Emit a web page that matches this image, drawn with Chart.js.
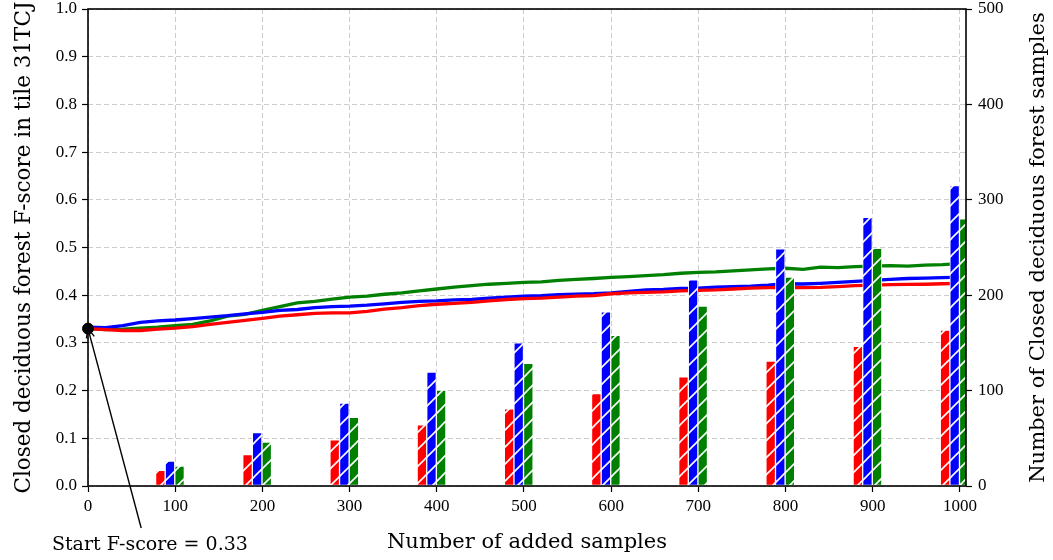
<!DOCTYPE html>
<html>
<head>
<meta charset="utf-8">
<script src="https://cdn.jsdelivr.net/npm/chart.js@4/dist/chart.umd.min.js"></script>
<style>
  html, body { margin: 0; padding: 0; background: #fff; }
  canvas { display: block; }
</style>
</head>
<body>
<canvas id="c" width="1053" height="560"></canvas>
<script>
// ---------------- data ----------------
const sampleSteps = [0,20,40,60,80,100,120,140,160,180,200,220,240,260,280,300,320,340,360,380,400,420,440,460,480,500,520,540,560,580,600,620,640,660,680,700,720,740,760,780,800,820,840,860,880,900,920,940,960,980,1000];
const fScoreRed = [0.330,0.328,0.326,0.326,0.329,0.331,0.334,0.339,0.343,0.347,0.3515,0.356,0.359,0.362,0.363,0.363,0.366,0.371,0.374,0.378,0.381,0.383,0.385,0.388,0.391,0.393,0.394,0.396,0.398,0.399,0.403,0.405,0.406,0.407,0.409,0.410,0.411,0.413,0.415,0.416,0.4165,0.416,0.4165,0.418,0.420,0.421,0.422,0.4225,0.423,0.424,0.425];
const fScoreBlue = [0.333,0.332,0.336,0.343,0.346,0.348,0.351,0.354,0.357,0.361,0.364,0.368,0.370,0.374,0.376,0.377,0.379,0.382,0.385,0.387,0.388,0.390,0.391,0.394,0.396,0.398,0.399,0.401,0.402,0.403,0.405,0.408,0.411,0.412,0.414,0.415,0.417,0.418,0.419,0.421,0.424,0.4235,0.425,0.427,0.429,0.431,0.433,0.435,0.436,0.437,0.438];
const fScoreGreen = [0.330,0.328,0.329,0.331,0.333,0.336,0.339,0.346,0.356,0.360,0.368,0.376,0.384,0.387,0.392,0.396,0.398,0.402,0.405,0.409,0.413,0.417,0.420,0.423,0.425,0.427,0.428,0.431,0.433,0.435,0.4375,0.439,0.441,0.443,0.446,0.448,0.449,0.451,0.453,0.455,0.4565,0.454,0.459,0.458,0.460,0.461,0.462,0.461,0.463,0.464,0.466];

const barCategories = [100,200,300,400,500,600,700,800,900,1000];
const countRed   = [16.5,33,48.5,64,81,97,114.5,131,146.5,163.5];
const countBlue  = [26,56,87,119.5,150,182.5,216,248.5,281.5,315];
const countGreen = [21,46,72,100.5,128.5,158,188.5,219,249,280];

const xTickLabels  = [0,100,200,300,400,500,600,700,800,900,1000];
const yTickLabels  = [0.0,0.1,0.2,0.3,0.4,0.5,0.6,0.7,0.8,0.9,1.0];
const y2TickLabels = [0,100,200,300,400,500];

const startScore = 0.33;
const startSamples = 0;

const xTitle  = 'Number of added samples';
const yTitle  = 'Closed deciduous forest F-score in tile 31TCJ';
const y2Title = 'Number of Closed deciduous forest samples';
const annotText = 'Start F-score = 0.33';

// ---------------- styling helpers ----------------
const RED = '#ff0000', BLUE = '#0000ff', GREEN = '#008000';
const TICK_FONT = { family: 'Liberation Serif', size: 17 };
const TITLE_FONT = '21px "DejaVu Serif"';

function hatch(color) {
  const s = 17;
  const c = document.createElement('canvas');
  c.width = s; c.height = s;
  const g = c.getContext('2d');
  g.fillStyle = color;
  g.fillRect(0, 0, s, s);
  g.strokeStyle = '#ffffff';
  g.lineWidth = 1.6;
  for (const k of [0, s, 2 * s]) {
    g.beginPath();
    g.moveTo(k - 2 * s, 2 * s);
    g.lineTo(k + 2 * s, -2 * s);
    g.stroke();
  }
  return g.createPattern(c, 'repeat');
}

const barShift = { red: -17, blue: -6, green: 5 }; // horizontal group offsets (x units)

function pts(xs, ys, shift = 0) { return xs.map((x, i) => ({ x: x + shift, y: ys[i] })); }

function lineDs(data, color) {
  return { type: 'line', data: pts(sampleSteps, data), borderColor: color, backgroundColor: color,
           borderWidth: 3.3, pointRadius: 0, tension: 0, yAxisID: 'y', order: 3, clip: 6 };
}
function barDs(data, color, shift) {
  return { type: 'bar', data: pts(barCategories, data, shift), backgroundColor: hatch(color),
           borderColor: '#ffffff', borderWidth: 1, borderSkipped: false, barThickness: 9.6,
           grouped: false, yAxisID: 'y2', order: 2 };
}

const decor = {
  id: 'decor',
  afterDatasetsDraw(chart) {
    const { ctx, chartArea: a, scales: { x, y } } = chart;
    ctx.save();
    // frame
    ctx.strokeStyle = '#000';
    ctx.lineWidth = 1.6;
    ctx.strokeRect(a.left, a.top, a.right - a.left, a.bottom - a.top);
    // annotation arrow
    const px = x.getPixelForValue(startSamples), py = y.getPixelForValue(startScore);
    const sx = x.getPixelForValue(61), sy = y.getPixelForValue(-0.088);
    ctx.lineWidth = 1.4;
    ctx.beginPath(); ctx.moveTo(sx, sy); ctx.lineTo(px, py); ctx.stroke();
    const ang = Math.atan2(sy - py, sx - px);
    const hl = 10, hw = 0.42;
    ctx.beginPath();
    ctx.moveTo(px + hl * Math.cos(ang - hw), py + hl * Math.sin(ang - hw));
    ctx.lineTo(px, py);
    ctx.lineTo(px + hl * Math.cos(ang + hw), py + hl * Math.sin(ang + hw));
    ctx.stroke();
    // annotation text
    ctx.fillStyle = '#000';
    ctx.font = '19px "DejaVu Serif"';
    ctx.textAlign = 'center';
    ctx.textBaseline = 'alphabetic';
    ctx.fillText(annotText, x.getPixelForValue(71), 550);
    // titles
    ctx.font = TITLE_FONT;
    ctx.fillText(xTitle, (a.left + a.right) / 2, 548);
    const cy = (a.top + a.bottom) / 2;
    ctx.font = '21.5px "DejaVu Serif"';
    ctx.save(); ctx.translate(30, cy); ctx.rotate(-Math.PI / 2); ctx.fillText(yTitle, 0, 0); ctx.restore();
    ctx.font = TITLE_FONT;
    ctx.save(); ctx.translate(1044, cy); ctx.rotate(-Math.PI / 2); ctx.fillText(y2Title, 0, 0); ctx.restore();
    ctx.restore();
  }
};

const gridDash = { color: '#cccccc', lineWidth: 1, tickColor: '#000', tickLength: 6, tickWidth: 1.2, offset: false };

new Chart(document.getElementById('c'), {
  type: 'line',
  data: {
    datasets: [
      lineDs(fScoreRed, RED),
      lineDs(fScoreBlue, BLUE),
      lineDs(fScoreGreen, GREEN),
      barDs(countRed, RED, barShift.red),
      barDs(countBlue, BLUE, barShift.blue),
      barDs(countGreen, GREEN, barShift.green),
      { type: 'scatter', data: [{ x: startSamples, y: startScore }], yAxisID: 'y', pointRadius: 5.5,
        pointBackgroundColor: '#000', pointBorderColor: '#000', order: 0, clip: false }
    ]
  },
  options: {
    responsive: false,
    animation: false,
    events: [],
    layout: { padding: { top: 9, left: 0, right: 0, bottom: 0 } },
    plugins: { legend: { display: false }, tooltip: { enabled: false } },
    scales: {
      x: {
        type: 'linear', min: 0, max: 1007, offset: false,
        afterBuildTicks: s => { s.ticks = xTickLabels.map(v => ({ value: v })); },
        afterFit: s => { s.height = 74; s.paddingLeft = 0; s.paddingRight = 0; },
        grid: { ...gridDash },
        border: { display: false, dash: [5, 3] },
        ticks: { color: '#000', font: TICK_FONT, padding: 4, maxRotation: 0, autoSkip: false,
                 callback: v => String(v) }
      },
      y: {
        type: 'linear', position: 'left', min: 0, max: 1,
        afterBuildTicks: s => { s.ticks = yTickLabels.map(v => ({ value: v })); },
        afterFit: s => { s.width = 88; s.paddingTop = 0; s.paddingBottom = 0; },
        grid: { ...gridDash },
        border: { display: false, dash: [5, 3] },
        ticks: { color: '#000', font: TICK_FONT, padding: 5, callback: v => Number(v).toFixed(1) }
      },
      y2: {
        type: 'linear', position: 'right', min: 0, max: 500,
        afterBuildTicks: s => { s.ticks = y2TickLabels.map(v => ({ value: v })); },
        afterFit: s => { s.width = 87; s.paddingTop = 0; s.paddingBottom = 0; },
        grid: { drawOnChartArea: false, tickColor: '#000', tickLength: 6, tickWidth: 1.2 },
        border: { display: false },
        ticks: { color: '#000', font: TICK_FONT, padding: 6, callback: v => String(v) }
      }
    }
  },
  plugins: [decor]
});
</script>
</body>
</html>
